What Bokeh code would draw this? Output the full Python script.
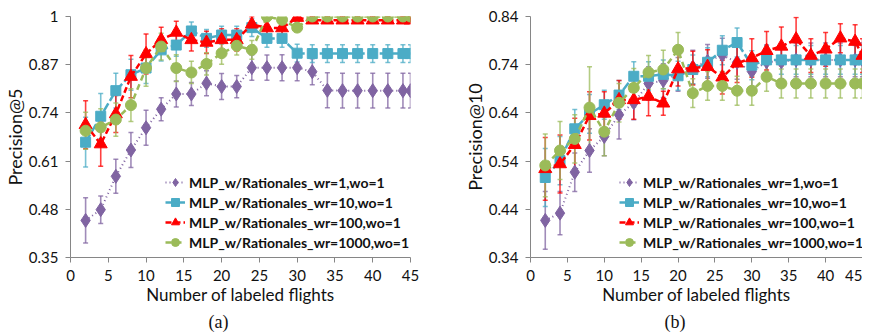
from bokeh.plotting import figure
from bokeh.models import (ColumnDataSource, Whisker, TeeHead, Legend, LegendItem,
                          FixedTicker, CustomJSTickFormatter, Range1d, Title)
from bokeh.layouts import row
from bokeh.embed import file_html
from bokeh.resources import INLINE

# ---------------- data ----------------
x = [2, 4, 6, 8, 10, 12, 14, 16, 18, 20, 22, 24, 26, 28, 30, 32, 34, 36, 38, 40, 42, 44, 45]

labels = ["MLP_w/Rationales_wr=1,wo=1", "MLP_w/Rationales_wr=10,wo=1",
          "MLP_w/Rationales_wr=100,wo=1", "MLP_w/Rationales_wr=1000,wo=1"]

# Precision@5
p5_wr1 = [0.450, 0.479, 0.569, 0.640, 0.700, 0.750, 0.791, 0.791, 0.820, 0.811, 0.811, 0.862,
          0.862, 0.862, 0.862, 0.851, 0.801, 0.800, 0.800, 0.800, 0.800, 0.800, 0.800]
p5_wr10 = [0.661, 0.731, 0.800, 0.843, 0.861, 0.910, 0.923, 0.961, 0.941, 0.950, 0.950, 0.970,
           0.941, 0.941, 0.901, 0.900, 0.900, 0.900, 0.900, 0.900, 0.900, 0.900, 0.900]
p5_wr100 = [0.708, 0.656, 0.737, 0.838, 0.899, 0.937, 0.957, 0.937, 0.930, 0.937, 0.937, 0.979,
            0.969, 0.969, 0.997, 0.990, 0.990, 0.990, 0.990, 0.990, 0.990, 0.990, 0.990]
p5_wr1000 = [0.692, 0.701, 0.722, 0.761, 0.861, 0.919, 0.861, 0.849, 0.872, 0.901, 0.921, 0.910,
             1.000, 0.991, 0.970, 1.000, 1.000, 1.000, 1.000, 1.000, 1.000, 1.000, 1.000]

p5_err_wr1 = [0.061, 0.037, 0.046, 0.047, 0.047, 0.031, 0.035, 0.031, 0.034, 0.035, 0.030, 0.034,
              0.034, 0.035, 0.035, 0.035, 0.047, 0.047, 0.047, 0.047, 0.047, 0.047, 0.047]
p5_err_wr10 = [0.067, 0.061, 0.047, 0.042, 0.042, 0.030, 0.030, 0.024, 0.024, 0.024, 0.024, 0.024,
               0.024, 0.024, 0.024, 0.024, 0.024, 0.024, 0.024, 0.024, 0.024, 0.024, 0.024]
p5_err_wr100 = [0.065, 0.060, 0.050, 0.057, 0.054, 0.034, 0.030, 0.030, 0.030, 0.030, 0.030, 0.020,
                0.020, 0.020, 0.010, 0.005, 0.005, 0.005, 0.005, 0.005, 0.005, 0.005, 0.005]
p5_err_wr1000 = [0.050, 0.050, 0.045, 0.044, 0.049, 0.036, 0.036, 0.030, 0.030, 0.030, 0.025, 0.025,
                 0.005, 0.005, 0.010, 0.005, 0.005, 0.005, 0.005, 0.005, 0.005, 0.005, 0.005]

# Precision@10
p10_wr1 = [0.417, 0.432, 0.517, 0.562, 0.591, 0.636, 0.661, 0.701, 0.707, 0.720, 0.735, 0.747,
           0.760, 0.745, 0.726, 0.746, 0.746, 0.750, 0.750, 0.750, 0.750, 0.750, 0.750]
p10_wr10 = [0.506, 0.541, 0.607, 0.638, 0.657, 0.677, 0.716, 0.716, 0.720, 0.717, 0.730, 0.745,
            0.770, 0.786, 0.739, 0.750, 0.750, 0.750, 0.750, 0.750, 0.750, 0.750, 0.750]
p10_wr100 = [0.524, 0.534, 0.574, 0.634, 0.639, 0.667, 0.667, 0.674, 0.660, 0.731, 0.733, 0.736,
             0.714, 0.743, 0.754, 0.769, 0.778, 0.793, 0.759, 0.772, 0.795, 0.788, 0.759]
p10_wr1000 = [0.531, 0.562, 0.586, 0.651, 0.601, 0.661, 0.692, 0.724, 0.730, 0.771, 0.681, 0.696,
              0.696, 0.686, 0.686, 0.715, 0.701, 0.701, 0.701, 0.701, 0.701, 0.701, 0.701]

p10_err_wr1 = [0.060, 0.045, 0.040, 0.045, 0.040, 0.050, 0.035, 0.035, 0.035, 0.035, 0.035, 0.035,
               0.035, 0.035, 0.035, 0.035, 0.035, 0.035, 0.035, 0.035, 0.035, 0.035, 0.035]
p10_err_wr10 = [0.060, 0.050, 0.040, 0.040, 0.030, 0.030, 0.030, 0.030, 0.030, 0.030, 0.030, 0.030,
                0.030, 0.030, 0.030, 0.030, 0.030, 0.030, 0.030, 0.030, 0.030, 0.030, 0.030]
p10_err_wr100 = [0.065, 0.060, 0.055, 0.050, 0.045, 0.040, 0.040, 0.040, 0.025, 0.035, 0.035, 0.035,
                 0.035, 0.040, 0.040, 0.040, 0.040, 0.045, 0.035, 0.035, 0.030, 0.035, 0.035]
p10_err_wr1000 = [0.065, 0.060, 0.050, 0.085, 0.050, 0.040, 0.040, 0.035, 0.040, 0.036, 0.030, 0.030,
                  0.030, 0.030, 0.030, 0.030, 0.030, 0.030, 0.030, 0.030, 0.030, 0.030, 0.030]

yticks_a = [0.35, 0.48, 0.61, 0.74, 0.87, 1.0]
yticks_b = [0.34, 0.44, 0.54, 0.64, 0.74, 0.84]
xticks = [0, 5, 10, 15, 20, 25, 30, 35, 40, 45]

# ---------------- styles ----------------
colors = ["#8064A2", "#4BACC6", "#FF0000", "#9BBB59"]
dashes = ["1 3", "9 3", "6 3", "6 4"]
widths = [2, 2.5, 2.5, 2.5]
markers = ["diamond", "square", "triangle", "circle"]
msizes = [14, 10, 13, 11]
FONT = "Lato"


def make_panel(series, errs, yticks, ylabel, sub, width, border_right, sub_offset, legend_x):
    p = figure(width=width, height=336, x_range=Range1d(0, 45),
               y_range=Range1d(yticks[0], yticks[-1]),
               output_backend="svg", toolbar_location=None,
               min_border_left=60, min_border_right=border_right,
               min_border_top=16, min_border_bottom=79)
    p.outline_line_color = None
    p.grid.visible = False
    p.background_fill_color = "white"

    items = []
    for i in range(4):
        ys = series[i]
        es = errs[i]
        src = ColumnDataSource(dict(x=x, y=ys,
                                    lower=[a - b for a, b in zip(ys, es)],
                                    upper=[a + b for a, b in zip(ys, es)]))
        w = Whisker(source=src, base="x", upper="upper", lower="lower",
                    line_color=colors[i], line_width=1.6, line_alpha=0.75,
                    upper_head=TeeHead(size=5, line_color=colors[i], line_width=1.5, line_alpha=0.75),
                    lower_head=TeeHead(size=5, line_color=colors[i], line_width=1.5, line_alpha=0.75))
        p.add_layout(w)
        lr = p.line("x", "y", source=src, line_color=colors[i], line_width=widths[i],
                    line_dash=dashes[i])
        sr = p.scatter("x", "y", source=src, marker=markers[i], size=msizes[i],
                       fill_color=colors[i], line_color=colors[i])
        items.append(LegendItem(label=labels[i], renderers=[lr, sr]))

    leg = Legend(items=items, location=(legend_x, 5), padding=0, margin=0, spacing=0,
                 label_text_font=FONT, label_text_font_style="bold",
                 label_text_font_size="14px", label_text_color="#111111",
                 label_standoff=4, glyph_width=20, glyph_height=20, label_height=20,
                 background_fill_alpha=0, border_line_color=None)
    p.add_layout(leg)

    for ax in (p.xaxis[0], p.yaxis[0]):
        ax.axis_line_color = "#868686"
        ax.major_tick_line_color = "#868686"
        ax.minor_tick_line_color = None
        ax.major_tick_in = 0
        ax.major_tick_out = 5
        ax.major_label_text_font = FONT
        ax.major_label_text_font_size = "15px"
        ax.major_label_text_color = "#111111"
        ax.axis_label_text_font = FONT
        ax.axis_label_text_font_style = "normal"
        ax.axis_label_text_color = "#111111"
        ax.axis_label_standoff = 0

    p.xaxis.ticker = FixedTicker(ticks=xticks)
    p.xaxis.major_label_standoff = 7
    p.xaxis.axis_label = "Number of labeled flights"
    p.xaxis.axis_label_text_font_size = "17px"
    p.yaxis.ticker = FixedTicker(ticks=yticks)
    p.yaxis.formatter = CustomJSTickFormatter(
        code="return tick.toFixed(2).replace(/\\.?0+$/, '');")
    p.yaxis.major_label_standoff = 7
    p.yaxis.axis_label = ylabel
    p.yaxis.axis_label_text_font_size = "18px"

    t = Title(text=sub, align="left", offset=sub_offset, standoff=4,
              vertical_align="bottom", text_font="Liberation Serif",
              text_font_size="18px", text_font_style="normal", text_color="#111111")
    p.add_layout(t, "below")
    return p


pa = make_panel([p5_wr1, p5_wr10, p5_wr100, p5_wr1000],
                [p5_err_wr1, p5_err_wr10, p5_err_wr100, p5_err_wr1000],
                yticks_a, "Precision@5", "(a)", 460, 50, 138, 95)
pb = make_panel([p10_wr1, p10_wr10, p10_wr100, p10_wr1000],
                [p10_err_wr1, p10_err_wr10, p10_err_wr100, p10_err_wr1000],
                yticks_b, "Precision@10", "(b)", 402, 0, 134, 89)

layout = row(pa, pb)
open("out.html", "w").write(file_html(layout, INLINE))
